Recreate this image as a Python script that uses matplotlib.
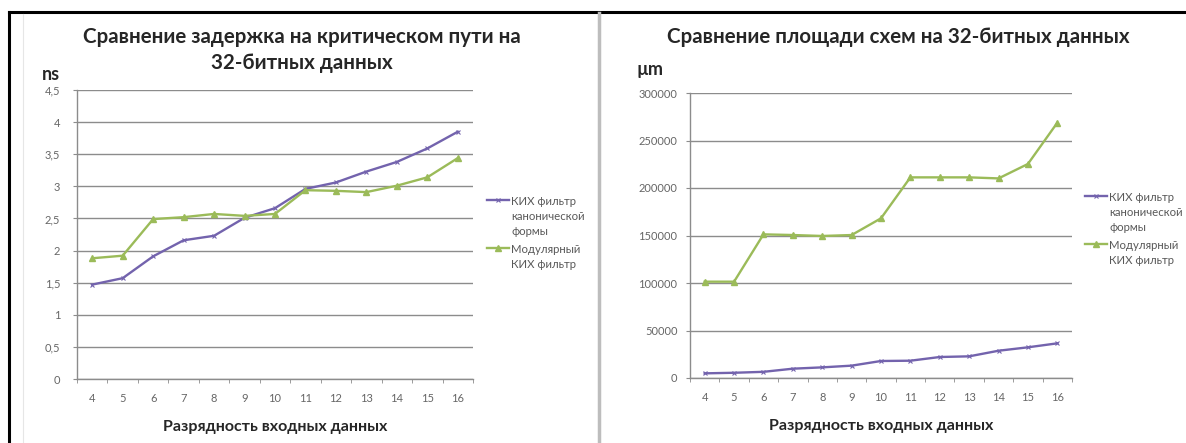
import numpy as np
import matplotlib
matplotlib.use("Agg")
import matplotlib.pyplot as plt
from matplotlib.lines import Line2D
from matplotlib.ticker import FuncFormatter

# data
bits = [4, 5, 6, 7, 8, 9, 10, 11, 12, 13, 14, 15, 16]

delay_canon = [1.47, 1.57, 1.91, 2.16, 2.23, 2.51, 2.66, 2.96, 3.06, 3.23, 3.38, 3.59, 3.85]
delay_modular = [1.88, 1.92, 2.49, 2.52, 2.57, 2.54, 2.57, 2.94, 2.93, 2.91, 3.01, 3.14, 3.44]

area_canon = [4900, 5500, 6500, 9800, 11200, 13000, 17900, 18200, 22100, 22800, 28700, 32300, 36500]
area_modular = [101400, 101400, 151200, 150500, 149500, 150500, 168100, 211200, 211200, 211200, 210100, 225300, 268700]

label_canon = "КИХ фильтр\nканонической\nформы"
label_modular = "Модулярный\nКИХ фильтр"
xlabel = "Разрядность входных данных"

purple = "#7363ad"
green = "#9bbb59"
grid_col = "#8c8c8c"
tick_col = "#666666"
text_col = "#262626"

plt.rcParams["font.family"] = ["Lato", "DejaVu Sans"]

W, H = 1186, 443
fig = plt.figure(figsize=(W / 100, H / 100), dpi=100)


def px_rect(x0, y0, x1, y1):
    return [x0 / W, 1 - y1 / H, (x1 - x0) / W, (y1 - y0) / H]


def style_axes(ax, ymax, ystep, fmt, ypad):
    x = np.arange(len(bits))
    ax.set_xlim(-0.5, len(bits) - 0.5)
    ax.set_ylim(0, ymax)
    ax.set_xticks(x)
    ax.set_xticklabels([str(b) for b in bits])
    ax.set_xticks(np.arange(-0.5, len(bits), 1), minor=True)
    ax.set_yticks(np.arange(0, ymax + ystep / 2, ystep))
    ax.yaxis.set_major_formatter(FuncFormatter(fmt))
    ax.grid(axis="y", color=grid_col, linewidth=1)
    ax.set_axisbelow(True)
    for s in ["top", "right"]:
        ax.spines[s].set_visible(False)
    for s in ["left", "bottom"]:
        ax.spines[s].set_color(grid_col)
        ax.spines[s].set_linewidth(1)
    ax.tick_params(axis="x", which="major", length=0, pad=10, labelsize=8, labelcolor=tick_col)
    ax.tick_params(axis="x", which="minor", length=3, direction="out", color=grid_col)
    ax.tick_params(axis="y", length=3, direction="out", color=grid_col, pad=ypad, labelsize=8, labelcolor=tick_col)


def add_legend(ax, x, y):
    leg = ax.legend(loc="center left", bbox_to_anchor=(x / W, 1 - y / H), bbox_transform=fig.transFigure,
                    frameon=False, fontsize=8.2, handlelength=2.0, handletextpad=0.15, labelspacing=0.65,
                    borderpad=0, labelcolor="#595959")
    for t in leg.get_texts():
        t.set_linespacing(1.4)
    # put each line sample next to the first text row, as Excel does
    for col in leg._legend_handle_box.get_children():
        for item in col.get_children():
            item.align = "top"
    return leg


def add_xlabel(ax, y_axis_px, y_px, height_px):
    ax.set_xlabel(xlabel, fontsize=11.5, fontweight="bold", color=text_col)
    ax.xaxis.label.set_verticalalignment("center")
    ax.xaxis.set_label_coords(0.5, -(y_px - y_axis_px) / height_px)


x = np.arange(len(bits))

# left chart: delay
ax1 = fig.add_axes(px_rect(77, 90, 473, 379))
ax1.plot(x, delay_canon, color=purple, lw=1.7, marker="x", ms=3.5, mew=0.8, label=label_canon)
ax1.plot(x, delay_modular, color=green, lw=1.7, marker="^", ms=5, label=label_modular)
style_axes(ax1, 4.5, 0.5, lambda v, p: ("%g" % v).replace(".", ","), 9)
add_legend(ax1, 481, 233)
add_xlabel(ax1, 379, 427, 289)

# right chart: area
ax2 = fig.add_axes(px_rect(690, 93, 1072, 378))
ax2.plot(x, area_canon, color=purple, lw=1.7, marker="x", ms=3.5, mew=0.8, label=label_canon)
ax2.plot(x, area_modular, color=green, lw=1.7, marker="^", ms=5, label=label_modular)
style_axes(ax2, 300000, 50000, lambda v, p: "%d" % v, 6)
add_legend(ax2, 1079, 229)
add_xlabel(ax2, 378, 426, 285)

# titles and units
fig.text(302 / W, 1 - 37 / H, "Сравнение задержка на критическом пути на", ha="center", va="center",
         fontsize=14.8, fontweight="bold", color=text_col)
fig.text(302 / W, 1 - 63 / H, "32-битных данных", ha="center", va="center",
         fontsize=14.8, fontweight="bold", color=text_col)
fig.text(42 / W, 1 - 74 / H, "ns", ha="left", va="center", fontsize=13, fontweight="bold", color=text_col)

fig.text(898 / W, 1 - 37 / H, "Сравнение площади схем на 32-битных данных", ha="center", va="center",
         fontsize=14.8, fontweight="bold", color=text_col)
fig.text(636 / W, 1 - 70 / H, "µm", ha="left", va="center", fontsize=13, fontweight="bold", color=text_col)

# frame lines around the two charts
fig.add_artist(Line2D([9 / W, 1], [1 - 12 / H, 1 - 12 / H], color="black", lw=2.2))
fig.add_artist(Line2D([9 / W, 9 / W], [0, 1 - 12 / H], color="black", lw=2.2))
fig.add_artist(Line2D([23 / W, 23 / W], [0, 1 - 14 / H], color="#e6e6e6", lw=0.8))
fig.add_artist(Line2D([599 / W, 599 / W], [0, 1 - 13 / H], color="#bdbdbd", lw=2.5))

fig.savefig("out.png", dpi=100, facecolor="white")
